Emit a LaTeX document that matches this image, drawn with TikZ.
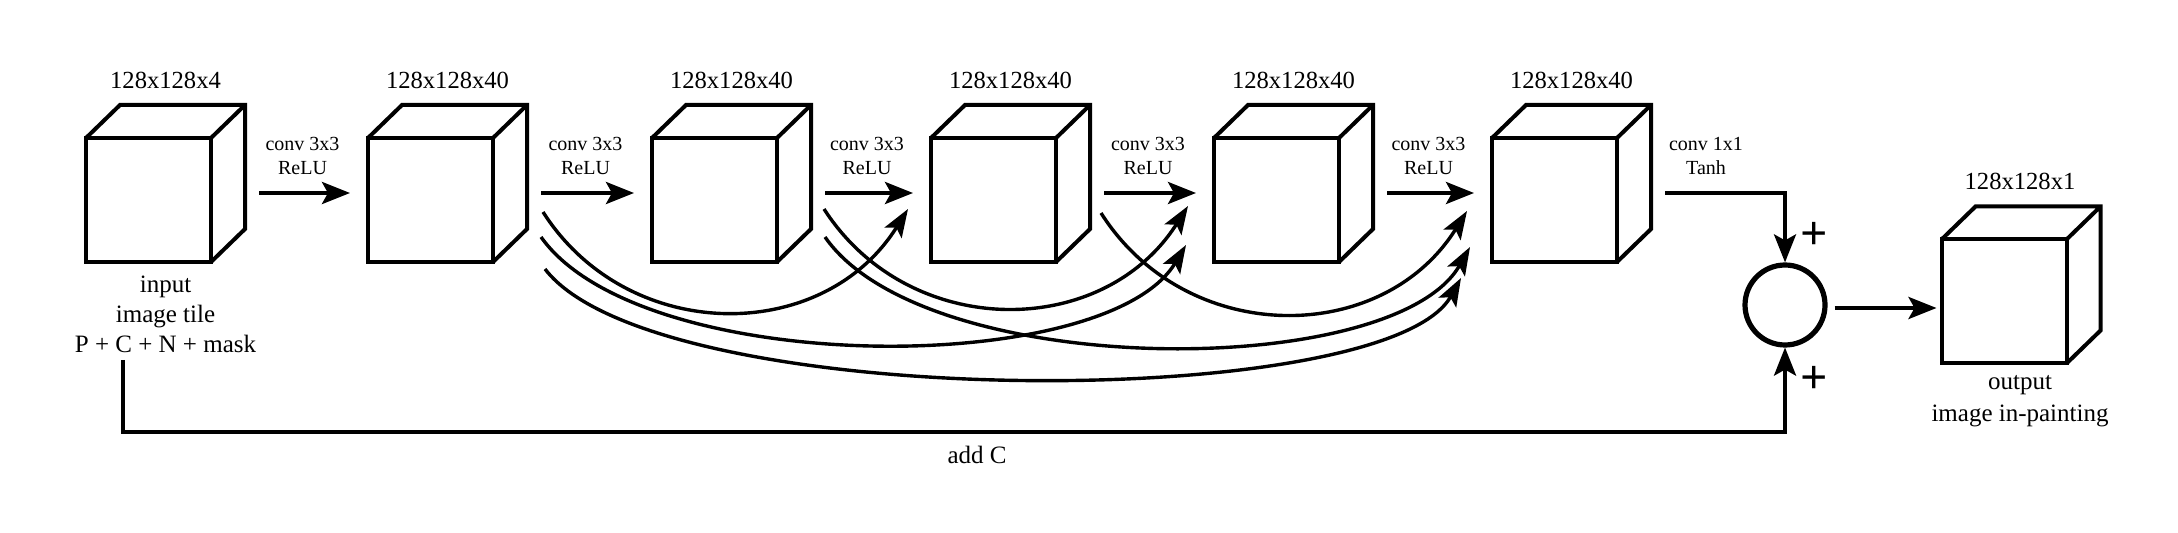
\documentclass[tikz,border=0pt]{standalone}
\usepackage{fontspec}
\setmainfont{Liberation Serif}
\usetikzlibrary{arrows.meta,calc}
\begin{document}
\begin{tikzpicture}[x=0.5pt,y=-0.5pt,
  cube/.style={draw, line width=2pt, minimum width=62.5pt, minimum height=62pt, inner sep=0pt, outer sep=0pt},
  cubeline/.style={line width=2pt, line join=miter},
  arr/.style={line width=2pt, -{Stealth[length=14pt,width=11pt,inset=3pt]}},
  skip/.style={line width=1.7pt, -{Stealth[length=14pt,width=10pt,inset=3pt]}},
  dim/.style={font=\fontsize{12.3}{14}\selectfont, inner sep=0pt},
  op/.style={font=\fontsize{10}{12}\selectfont, align=center, inner sep=0pt},
  lbl/.style={font=\fontsize{12.5}{15}\selectfont, align=center, inner sep=0pt},
  plus/.style={font=\fontsize{24}{24}\selectfont\bfseries, inner sep=0pt},
  sumnode/.style={circle, draw, line width=2.6pt, minimum size=40pt, inner sep=0pt, outer sep=1.3pt},
]
\useasboundingbox (0,0) rectangle (2178,533);

% cubes (front faces)
\node[cube] (c1) at (148.5,200) {};
\node[cube] (c2) at (430.5,200) {};
\node[cube] (c3) at (714.5,200) {};
\node[cube] (c4) at (993.5,200) {};
\node[cube] (c5) at (1276.5,200) {};
\node[cube] (c6) at (1554.5,200) {};
\node[cube] (out) at (2004,301.5) {};

\foreach \c in {c1,c2,c3,c4,c5,c6,out}{
  \draw[cubeline] (\c.north west) -- ++(34,-33) -- ($(\c.north east)+(34,-33)$)
    -- ($(\c.south east)+(34,-33)$) -- (\c.south east)
    (\c.north east) -- ++(34,-33);
}

% dimension labels
\node[dim] (d1) at ($(c1.center)+(17,-120)$) {128x128x4};
\foreach \c in {c2,c3,c4,c5,c6}{
  \node[dim] (d\c) at ($(\c.center)+(17,-120)$) {128x128x40};
}
\node[dim] (dout) at ($(out.center)+(16,-120.5)$) {128x128x1};

% input / output labels
\node[lbl] (inlbl) at ($(c1.center)+(17,114)$) {input\\image tile\\P + C + N + mask};
\node[lbl, font=\fontsize{12.5}{16}\selectfont] (outlbl) at ($(out.center)+(16,99.5)$) {output\\image in-painting};

% main conv arrows
\foreach \a/\b in {c1/c2,c2/c3,c3/c4,c4/c5,c5/c6}{
  \draw[arr] ($(\a.east)+(48,-7)$) -- node[op, midway, yshift=18.5pt, xshift=-1pt] (op\a) {conv 3x3\\ReLU} ($(\b.west)+(-18,-7)$);
}

% skip connection coordinates
\coordinate (s2a) at ($(c2.east)+(50,12)$);
\coordinate (s2b) at ($(c2.east)+(48,37)$);
\coordinate (s2c) at ($(c2.east)+(52,69)$);
\coordinate (s3a) at ($(c3.east)+(47,9)$);
\coordinate (s3b) at ($(c3.east)+(48,37)$);
\coordinate (s4a) at ($(c4.east)+(45,13)$);
\coordinate (e4a) at ($(c4.west)+(-23,9)$);
\coordinate (e5a) at ($(c5.west)+(-26,6)$);
\coordinate (e5b) at ($(c5.west)+(-28,45)$);
\coordinate (e6a) at ($(c6.west)+(-25,11)$);
\coordinate (e6b) at ($(c6.west)+(-22,47)$);
\coordinate (e6c) at ($(c6.west)+(-31,78)$);

\draw[skip] (s2a) .. controls +(85,133) and +(-85,136) .. (e4a);
\draw[skip] (s2b) .. controls +(100,141) and +(-80,133) .. (e5b);
\draw[skip] (s2c) .. controls +(110,144) and +(-75,135) .. (e6c);
\draw[skip] (s3a) .. controls +(85,132) and +(-85,134) .. (e5a);
\draw[skip] (s3b) .. controls +(100,144) and +(-76,134) .. (e6b);
\draw[skip] (s4a) .. controls +(85,134) and +(-85,136) .. (e6a);

% sum node
\node[sumnode] (circ) at (1785,305) {};
\node[op] (op6) at (1706,156) {conv 1x1\\Tanh};
\draw[arr] ($(c6.east)+(48,-7)$) -| (circ.north);
\node[plus] (p1) at (1814,236) {+};
\node[plus] (p2) at (1814,380) {+};

% add C path
\coordinate (cstart) at (122.5,360);
\draw[arr] (cstart) -- ++(0,72) -| (circ.south);
\node[lbl] (addc) at (977,455) {add C};

% output arrow
\coordinate (oin) at ($(out.west)+(-5,6.5)$);
\draw[arr] ($(circ.east)+(7,3)$) -- (oin);
\end{tikzpicture}
\end{document}
